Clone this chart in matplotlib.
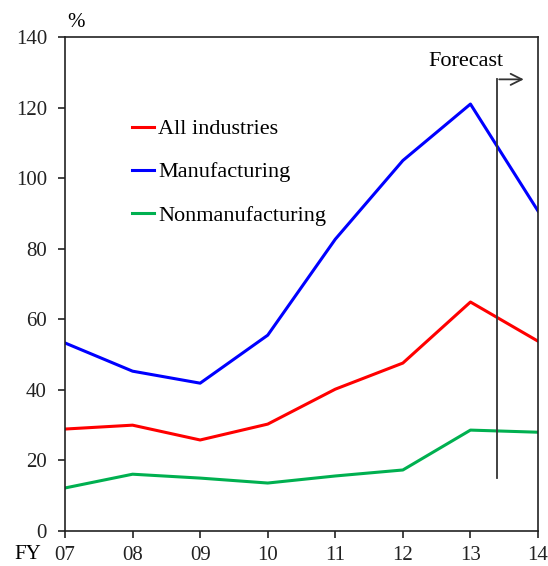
import matplotlib.pyplot as plt

# fiscal years and series (%)
years = ["07", "08", "09", "10", "11", "12", "13", "14"]
all_ind = [28.9, 30.0, 25.8, 30.3, 40.2, 47.6, 64.9, 53.8]
manuf = [53.3, 45.3, 41.9, 55.5, 82.7, 105.0, 121.0, 90.7]
nonmanuf = [12.2, 16.1, 15.0, 13.6, 15.6, 17.3, 28.6, 28.0]

plt.rcParams['font.family'] = ['Liberation Serif', 'DejaVu Serif']

fig = plt.figure(figsize=(5.48, 5.66), dpi=100)
ax = fig.add_axes([0.1186, 0.0618, 0.8632, 0.8728])

x = list(range(len(years)))
ax.plot(x, all_ind, color='#ff0000', lw=2.2)
ax.plot(x, manuf, color='#0000ff', lw=2.2)
ax.plot(x, nonmanuf, color='#00b050', lw=2.2)

ax.set_xlim(0, len(years) - 1)
ax.set_ylim(0, 140)
ax.set_yticks(range(0, 141, 20))
ax.set_xticks(x)
ax.set_xticklabels(years)
ax.tick_params(labelsize=15, direction='out', length=5, width=1.2, colors='#222222')
ax.tick_params(axis='y', pad=8)
ax.tick_params(axis='x', pad=6)
for s in ax.spines.values():
    s.set_linewidth(1.2)
    s.set_color('#222222')

# legend drawn by hand inside the plot
legend = [("All industries", '#ff0000', 114.5),
          ("Manufacturing", '#0000ff', 102.3),
          ("Nonmanufacturing", '#00b050', 90.1)]
for name, c, yy in legend:
    ax.plot([0.99, 1.32], [yy, yy], color=c, lw=2.2)
    ax.text(1.38, yy, name, fontsize=16, va='center_baseline', ha='left')

# forecast arrow
ax.plot([6.39, 6.39], [15, 128], color='#333333', lw=1.3)
ax.annotate("", xy=(6.83, 128), xytext=(6.385, 128),
            arrowprops=dict(arrowstyle='->', color='#333333', lw=1.3, mutation_scale=20))
ax.text(5.94, 133.2, "Forecast", fontsize=16, ha='center', va='center')

fig.text(0.122, 0.96, "%", fontsize=15, ha='left', va='center')
fig.text(0.027, 0.021, "FY", fontsize=15, ha='left', va='center')

fig.savefig("out.png", dpi=100)
